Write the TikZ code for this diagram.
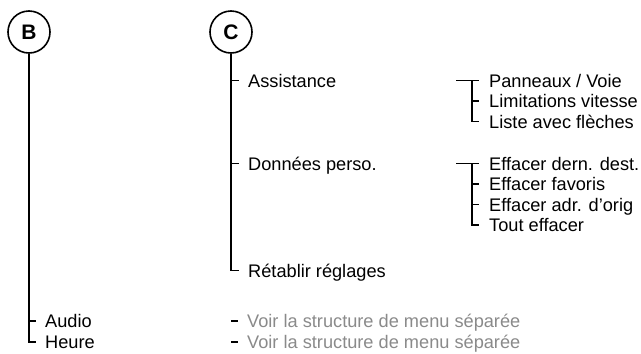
\documentclass[tikz,border=0pt]{standalone}
\usepackage{fontspec}
\setmainfont{Liberation Sans}
\definecolor{greytxt}{HTML}{8A8A8A}
\begin{document}
\begin{tikzpicture}[x=1pt,y=-1pt,
  item/.style={anchor=base west,inner sep=0pt,font=\fontsize{18.2}{20}\selectfont},
  gitem/.style={item,text=greytxt},
  letter/.style={circle,draw,line width=1.6pt,minimum size=42pt,inner sep=0pt,font=\fontsize{21}{24}\selectfont\bfseries},
  tree/.style={line width=1.1pt}]
\useasboundingbox (0,0) rectangle (641,354);
% circles
\node[letter] (B) at (29,32) {B};
\node[letter] (C) at (231,32) {C};
% column C items
\node[item] (assist) at (248,87) {Assistance};
\node[item] (donnees) at (248,170) {Données perso.};
\node[item] (retablir) at (248,277) {Rétablir réglages};
% column B items
\node[item] (audio) at (45,327.5) {Audio};
\node[item] (heure) at (45,348.5) {Heure};
% grey notes
\node[gitem] (note1) at (247,327.5) {Voir la structure de menu séparée};
\node[gitem] (note2) at (247,348.5) {Voir la structure de menu séparée};
% Assistance sub-items
\node[item] (pan) at (489,87) {Panneaux / Voie};
\node[item] (lim) at (489,107.5) {Limitations vitesse};
\node[item] (liste) at (489,128) {Liste avec flèches};
% Donnees sub-items
\node[item] (eff1) at (489,170) {Effacer dern. dest.};
\node[item] (eff2) at (489,190.5) {Effacer favoris};
\node[item] (eff3) at (489,211) {Effacer adr. d'orig};
\node[item] (eff4) at (489,231.5) {Tout effacer};
% tick end points
\foreach \n in {audio,heure,assist,donnees,retablir}
  \coordinate (\n T) at ([xshift=-9pt,yshift=6.5pt]\n.base west);
\foreach \n in {pan,lim,liste,eff1,eff2,eff3,eff4}
  \coordinate (\n T) at ([xshift=-10pt,yshift=6.5pt]\n.base west);
\foreach \n in {note1,note2}{
  \coordinate (\n S) at ([xshift=-16pt,yshift=6.5pt]\n.base west);
  \coordinate (\n T) at ([xshift=-9pt,yshift=6.5pt]\n.base west);}
% B tree
\draw[tree] (B.south) |- (heureT);
\draw[tree] (B.south |- audioT) -- (audioT);
% C tree
\draw[tree] (C.south) |- (retablirT);
\draw[tree] (C.south |- assistT) -- (assistT);
\draw[tree] (C.south |- donneesT) -- (donneesT);
% Assistance sub tree
\coordinate (a0) at (456,80.5);
\coordinate (av) at (472,80.5);
\draw[tree] (a0) -- (panT);
\draw[tree] (av) |- (listeT);
\draw[tree] (av |- limT) -- (limT);
% Donnees sub tree
\coordinate (d0) at (456,163.5);
\coordinate (dv) at (472,163.5);
\draw[tree] (d0) -- (eff1T);
\draw[tree] (dv) |- (eff4T);
\draw[tree] (dv |- eff2T) -- (eff2T);
\draw[tree] (dv |- eff3T) -- (eff3T);
% dashes before grey notes
\draw[tree] (note1S) -- (note1T);
\draw[tree] (note2S) -- (note2T);
\end{tikzpicture}
\end{document}
